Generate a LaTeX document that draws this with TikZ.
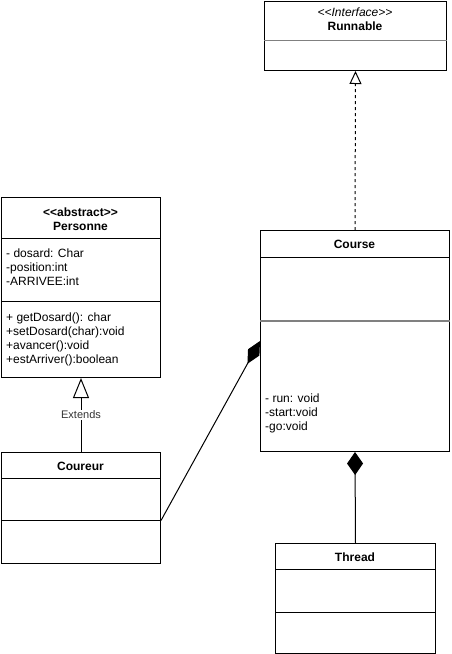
\documentclass[tikz,border=0pt]{standalone}
\usepackage{fontspec}
\setmainfont{Liberation Sans}
\usetikzlibrary{arrows.meta}
\begin{document}
\begin{tikzpicture}[x=1pt,y=-1pt,
  txt/.style={font=\fontsize{12}{14}\selectfont},
  classbox/.style={draw, line width=1pt, inner sep=0pt, anchor=north west, fill=white},
  title/.style={font=\fontsize{12}{14}\selectfont\bfseries, anchor=base, inner sep=0pt},
  members/.style={txt, align=left, anchor=north west, inner sep=0pt},
  divider/.style={line width=1pt},
  softdivider/.style={draw=black!50, line width=1pt},
  link/.style={line width=1pt, line join=miter}]
\useasboundingbox[fill=white] (0,0) rectangle (451,654);

% Runnable interface
\node[classbox, minimum width=182pt, minimum height=69pt] (runnable) at (264,1) {};
\node[title, font=\fontsize{12}{14}\selectfont\itshape] (runnable-st) at (355,16) {{<}{<}Interface{>}{>}};
\node[title] (runnable-name) at (355,30) {Runnable};
\draw[softdivider] ([yshift=-39pt]runnable.north west) -- ([yshift=-39pt]runnable.north east);

% Personne (abstract)
\node[classbox, minimum width=159pt, minimum height=180pt] (personne) at (1,197) {};
\node[title] (personne-st) at (80.5,216) {{<}{<}abstract{>}{>}};
\node[title] (personne-name) at (80.5,230) {Personne};
\draw[divider] ([yshift=-41pt]personne.north west) -- ([yshift=-41pt]personne.north east);
\node[members] (personne-attr) at (6,247.2) {\strut- dosard: Char\\-position:int\\-ARRIVEE:int};
\draw[divider] ([yshift=-104pt]personne.north west) -- ([yshift=-104pt]personne.north east);
\node[members] (personne-ops) at (6,311.2) {\strut+ getDosard(): char\\+setDosard(char):void\\+avancer():void\\+estArriver():boolean};

% Course
\node[classbox, minimum width=189pt, minimum height=221pt] (course) at (260,230) {};
\node[title] (course-name) at (354.5,248) {Course};
\draw[divider] ([yshift=-27pt]course.north west) -- ([yshift=-27pt]course.north east);
\draw[softdivider, line width=1.6pt] ([yshift=-91pt]course.north west) -- ([yshift=-91pt]course.north east);
\node[members] (course-ops) at (265,392.2) {\strut- run: void\\-start:void\\-go:void};

% Coureur
\node[classbox, minimum width=159pt, minimum height=111pt] (coureur) at (1,452) {};
\node[title] (coureur-name) at (80.5,470) {Coureur};
\draw[divider] ([yshift=-26pt]coureur.north west) -- ([yshift=-26pt]coureur.north east);
\draw[divider] ([yshift=-68pt]coureur.north west) -- ([yshift=-68pt]coureur.north east);

% Thread
\node[classbox, minimum width=160pt, minimum height=110pt] (thread) at (275,543) {};
\node[title] (thread-name) at (355,561) {Thread};
\draw[divider] ([yshift=-26pt]thread.north west) -- ([yshift=-26pt]thread.north east);
\draw[divider] ([yshift=-69pt]thread.north west) -- ([yshift=-69pt]thread.north east);

% Relations
\draw[link, dash pattern=on 3pt off 3pt, -{Triangle[open, length=13pt, width=12pt]}]
  (course.north) -- (runnable.south);
\draw[link, -{Triangle[open, length=20pt, width=16pt]}]
  (coureur.north) -- node[font=\fontsize{11}{13}\selectfont, fill=white, text=black!80, inner sep=1pt] (extends) {Extends} (personne.south);
\draw[link, {Diamond[length=23pt, width=16pt]}-] (course.south) -- (thread.north);
\draw[link, {Diamond[length=26pt, width=13pt]}-] (course.west) -- ([yshift=-12.5pt]coureur.east);
\end{tikzpicture}
\end{document}
